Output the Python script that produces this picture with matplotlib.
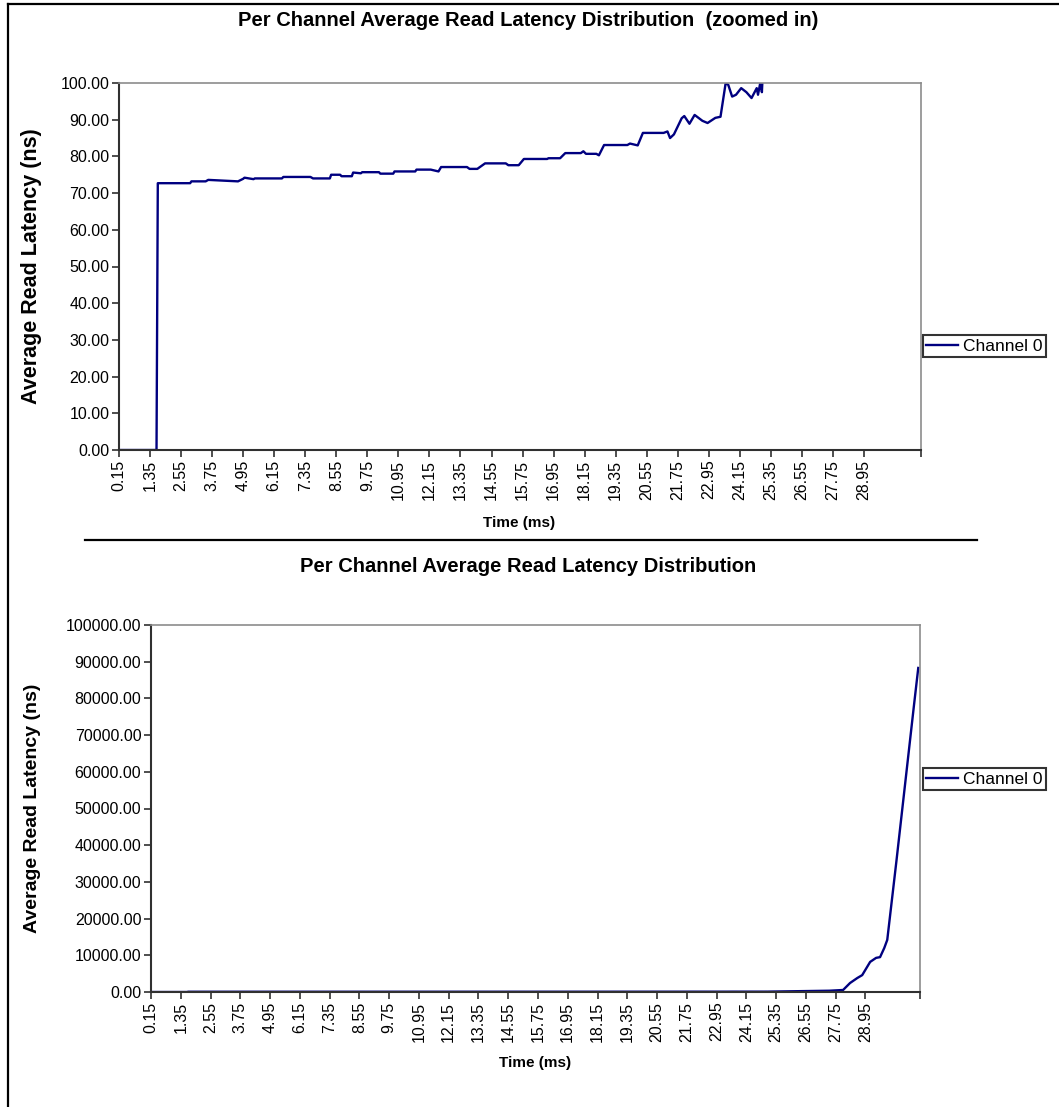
import matplotlib
matplotlib.use("Agg")
import matplotlib.pyplot as plt
from matplotlib.lines import Line2D

plt.rcParams['font.family'] = ['Liberation Sans', 'DejaVu Sans']

# Channel 0 average read latency (ns) over time (ms)
time_ms = [0.15, 1.60, 1.65, 2.90, 2.95, 3.50, 3.60, 4.75, 4.95, 5.00, 5.35, 5.40,
           6.45, 6.50, 7.55, 7.65, 8.30, 8.35, 8.70, 8.75, 9.15, 9.20, 9.50, 9.55,
           10.20, 10.25, 10.75, 10.80, 11.60, 11.65, 12.20, 12.50, 12.60, 13.60,
           13.70, 14.00, 14.30, 15.10, 15.20, 15.60, 15.80, 16.70, 16.75, 17.20,
           17.40, 18.00, 18.10, 18.20, 18.60, 18.70, 18.90, 19.80, 19.90, 20.20,
           20.40, 21.20, 21.35, 21.45, 21.60, 21.90, 22.00, 22.20, 22.40, 22.70,
           22.90, 23.20, 23.40, 23.60, 23.70, 23.85, 24.00, 24.20, 24.40, 24.60,
           24.80, 24.85, 24.95, 25.00, 25.05, 25.50, 26.00, 26.50, 27.00, 27.50,
           28.05, 28.33, 28.62, 28.82, 29.14, 29.38, 29.54, 29.71, 29.83, 30.20,
           30.60, 30.90, 31.08]
latency_ns = [0.0, 0.0, 72.7, 72.7, 73.2, 73.2, 73.6, 73.2, 73.9, 74.2, 73.8, 74.0,
              74.0, 74.4, 74.4, 74.0, 74.0, 75.0, 75.0, 74.6, 74.6, 75.6, 75.4, 75.7,
              75.7, 75.3, 75.3, 75.9, 75.9, 76.4, 76.4, 75.9, 77.1, 77.1,
              76.6, 76.6, 78.1, 78.1, 77.6, 77.6, 79.3, 79.3, 79.5, 79.5,
              80.9, 80.9, 81.4, 80.7, 80.7, 80.3, 83.1, 83.1, 83.5, 83.0,
              86.4, 86.4, 86.8, 85.0, 86.0, 90.4, 91.0, 88.9, 91.3, 89.7,
              89.1, 90.5, 90.8, 100.0, 99.5, 96.3, 96.8, 98.6, 97.5, 95.9,
              98.6, 96.8, 100.5, 97.5, 105, 150, 200, 250, 300, 350,
              550, 2450, 3800, 4600, 8200, 9300, 9500, 12000, 14200, 35700,
              59700, 77700, 88300]

tick_pos = [0.15 + 1.2 * k for k in range(25)]
tick_lab = ["%.2f" % t for t in tick_pos]
x_end = 31.15

W, H = 1059, 1107
fig = plt.figure(figsize=(W / 100, H / 100), dpi=100)
fig.patch.set_facecolor('white')


def px(x0, y0, x1, y1):
    # pixel box -> figure fraction rect
    return [x0 / W, 1 - y1 / H, (x1 - x0) / W, (y1 - y0) / H]


def make_chart(rect, ymax, ystep, title_y, title, ylab_x, ylab_size, xlab_y, legend_y):
    ax = fig.add_axes(rect)
    ax.plot(time_ms, latency_ns, color='#000080', lw=1.7, label='Channel 0')
    ax.set_xlim(0.15, x_end)
    ax.set_ylim(0, ymax)
    ax.set_xticks(tick_pos + [x_end])
    ax.set_xticklabels(tick_lab + [''], rotation=90, fontsize=11.5)
    yt = [ystep * i for i in range(11)]
    ax.set_yticks(yt)
    ax.set_yticklabels(["%.2f" % v for v in yt], fontsize=11.5)
    ax.tick_params(direction='out', length=5, width=1.2, color='#303030', pad=2)
    for s in ['left', 'bottom']:
        ax.spines[s].set_color('#303030')
        ax.spines[s].set_linewidth(1.5)
    for s in ['top', 'right']:
        ax.spines[s].set_color('#8c8c8c')
        ax.spines[s].set_linewidth(1.2)
    ax.set_ylabel('Average Read Latency (ns)', fontsize=ylab_size, fontweight='bold')
    ax.yaxis.set_label_coords(ylab_x, 0.5)
    ax.set_xlabel('Time (ms)', fontsize=11, fontweight='bold')
    ax.xaxis.set_label_coords(0.499, xlab_y)
    fig.text(528 / W, 1 - title_y / H, title, ha='center', va='center',
             fontsize=14.5, fontweight='bold')
    leg = ax.legend(loc='center left', bbox_to_anchor=(923 / W, 1 - legend_y / H),
                    bbox_transform=fig.transFigure, fontsize=12.5, frameon=True,
                    fancybox=False, edgecolor='black', borderpad=0.2,
                    handlelength=1.8, handletextpad=0.3, borderaxespad=0)
    leg.get_frame().set_linewidth(1.5)
    return ax


make_chart(px(119, 83, 921, 450), 100, 10, 20,
           'Per Channel Average Read Latency Distribution  (zoomed in)',
           -0.096, 15.5, -0.18, 346)
make_chart(px(151, 625, 920, 992), 100000, 10000, 566,
           'Per Channel Average Read Latency Distribution',
           -0.143, 14, -0.175, 779)

# separator between the two charts and the outer frame
fig.add_artist(Line2D([85 / W, 977 / W], [1 - 540 / H] * 2, color='black', lw=1.6))
fig.add_artist(Line2D([8 / W, 8 / W], [1 - 4 / H, 0], color='black', lw=1.6))
fig.add_artist(Line2D([8 / W, 1], [1 - 4 / H] * 2, color='black', lw=1.6))

fig.savefig('out.png', dpi=100)
